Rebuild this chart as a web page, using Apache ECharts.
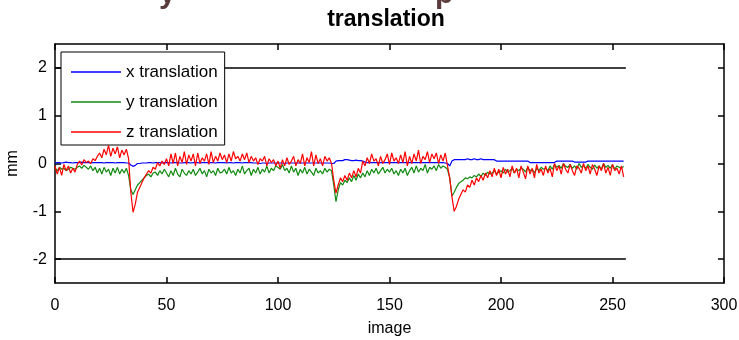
<!DOCTYPE html>
<html>
<head>
<meta charset="utf-8">
<script src="https://cdn.jsdelivr.net/npm/echarts@6/dist/echarts.min.js"></script>
<style>html,body{margin:0;padding:0;background:#fff;}#c{width:739px;height:340px;}</style>
</head>
<body>
<div id="c"></div>
<script>
var seriesNames = ['x translation', 'y translation', 'z translation'];
var xTicks = [0, 50, 100, 150, 200, 250, 300];
var yTicks = [-2, -1, 0, 1, 2];
var limitX = [0, 256];
var limitY = [2, -2];

var xTrans = [
0.01,0.02,0.02,0.01,0.02,0.03,0.02,0.02,0.01,0.02,
0.02,0.02,0.03,0.02,0.02,0.02,0.01,0.02,0.02,0.02,
0.02,0.02,0.01,0.02,0.02,0.02,0.02,0.01,0.02,0.02,
0.02,0.02,0.01,0.01,-0.03,-0.06,-0.04,0.0,0.0,0.01,
0.01,0.01,0.02,0.02,0.01,0.02,0.02,0.02,0.01,0.02,
0.02,0.02,0.01,0.02,0.02,0.02,0.01,0.01,0.02,0.02,
0.02,0.01,0.02,0.02,0.02,0.01,0.02,0.02,0.02,0.01,
0.02,0.02,0.01,0.02,0.02,0.02,0.02,0.01,0.02,0.02,
0.01,0.02,0.02,0.02,0.01,0.02,0.02,0.02,0.02,0.01,
0.01,0.01,0.0,0.01,0.01,0.0,0.01,0.01,0.01,0.01,
0.01,0.01,0.01,0.0,0.01,0.01,0.01,0.01,0.01,0.01,
0.01,0.01,0.01,0.01,0.01,0.01,0.01,0.01,0.01,0.01,
0.01,0.01,0.01,0.01,0.0,0.0,0.05,0.06,0.06,0.06,
0.08,0.08,0.07,0.06,0.06,0.07,0.06,0.06,0.05,0.03,
0.02,0.02,0.02,0.02,0.02,0.02,0.02,0.02,0.02,0.02,
0.02,0.02,0.02,0.02,0.02,0.02,0.02,0.02,0.02,0.02,
0.02,0.02,0.02,0.02,0.02,0.02,0.02,0.02,0.02,0.02,
0.02,0.02,0.02,0.02,0.02,0.01,0.0,-0.05,0.05,0.08,
0.08,0.08,0.08,0.08,0.08,0.1,0.08,0.08,0.1,0.08,
0.08,0.1,0.08,0.08,0.08,0.08,0.08,0.08,0.05,0.05,
0.05,0.05,0.05,0.05,0.05,0.05,0.05,0.05,0.05,0.05,
0.05,0.05,0.05,0.02,0.02,0.02,0.02,0.02,0.02,0.02,
0.02,0.02,0.02,0.02,0.02,0.05,0.05,0.05,0.05,0.05,
0.05,0.05,0.05,0.03,0.03,0.03,0.03,0.03,0.03,0.05,
0.05,0.05,0.05,0.05,0.05,0.05,0.05,0.05,0.05,0.05,
0.05,0.05,0.05,0.05,0.05,0.05];

var yTrans = [
-0.1,-0.15,-0.08,-0.12,-0.1,-0.15,-0.12,-0.08,-0.1,-0.12,
-0.08,-0.05,-0.1,-0.04,-0.08,-0.12,-0.05,-0.15,-0.08,-0.2,
-0.1,-0.22,-0.08,-0.18,-0.12,-0.25,-0.1,-0.2,-0.08,-0.22,
-0.12,-0.2,-0.1,-0.25,-0.55,-0.65,-0.55,-0.45,-0.4,-0.35,
-0.3,-0.25,-0.22,-0.28,-0.2,-0.18,-0.25,-0.15,-0.22,-0.12,
-0.2,-0.28,-0.15,-0.25,-0.1,-0.22,-0.28,-0.12,-0.2,-0.25,
-0.15,-0.22,-0.12,-0.25,-0.18,-0.1,-0.22,-0.15,-0.28,-0.12,
-0.2,-0.15,-0.25,-0.1,-0.2,-0.18,-0.12,-0.22,-0.08,-0.2,
-0.15,-0.25,-0.12,-0.2,-0.05,-0.22,-0.15,-0.1,-0.25,-0.12,
-0.2,-0.08,-0.22,-0.12,-0.18,-0.05,-0.2,-0.1,-0.15,-0.05,
-0.08,-0.12,-0.02,-0.15,-0.1,-0.2,-0.05,-0.18,-0.1,-0.25,
-0.12,-0.2,-0.08,-0.22,-0.12,-0.18,-0.25,-0.1,-0.2,-0.15,
-0.22,-0.1,-0.18,-0.12,-0.15,-0.45,-0.8,-0.55,-0.4,-0.45,
-0.35,-0.4,-0.3,-0.38,-0.25,-0.35,-0.22,-0.3,-0.2,-0.28,
-0.15,-0.25,-0.12,-0.2,-0.1,-0.22,-0.15,-0.08,-0.2,-0.12,
-0.18,-0.1,-0.22,-0.15,-0.25,-0.12,-0.2,-0.1,-0.25,-0.15,
-0.08,-0.2,-0.05,-0.18,-0.1,-0.15,-0.02,-0.2,-0.08,-0.12,
-0.05,-0.15,-0.02,-0.1,-0.05,-0.08,-0.12,-0.3,-0.68,-0.6,
-0.5,-0.42,-0.38,-0.35,-0.3,-0.32,-0.28,-0.3,-0.25,-0.28,
-0.22,-0.27,-0.2,-0.25,-0.18,-0.22,-0.2,-0.15,-0.22,-0.18,
-0.15,-0.2,-0.12,-0.18,-0.15,-0.1,-0.2,-0.12,-0.15,-0.1,
-0.12,-0.18,-0.08,-0.15,-0.12,-0.2,-0.1,-0.15,-0.08,-0.12,
-0.1,-0.15,-0.05,-0.12,-0.02,-0.08,-0.04,-0.1,0.0,-0.06,
-0.08,-0.02,-0.1,-0.05,-0.12,0.0,-0.08,-0.04,-0.1,-0.02,
-0.08,-0.12,-0.03,-0.1,-0.05,-0.12,0.0,-0.08,-0.04,-0.1,
-0.02,-0.12,-0.05,-0.08,-0.1,-0.06];

var zTrans = [
-0.05,-0.22,-0.08,-0.25,-0.02,-0.15,-0.05,-0.2,-0.1,-0.18,
-0.02,0.05,-0.03,0.08,0.02,0.05,0.0,0.1,0.06,0.15,
0.22,0.12,0.3,0.18,0.38,0.15,0.32,0.2,0.35,0.12,
0.28,0.18,0.3,0.1,-0.6,-1.02,-0.85,-0.6,-0.5,-0.4,
-0.3,-0.22,-0.15,-0.2,-0.08,-0.12,0.02,-0.05,0.05,-0.02,
0.1,-0.05,0.2,0.0,0.22,-0.05,0.15,0.02,0.25,-0.02,
0.18,0.05,0.2,-0.05,0.22,0.0,0.12,0.05,0.2,-0.02,
0.25,0.02,0.15,0.05,0.22,0.08,0.18,0.02,0.2,0.05,
0.25,0.1,0.15,0.05,0.2,0.08,0.22,0.02,0.15,0.05,
0.12,-0.02,0.1,0.05,0.15,-0.05,0.1,0.02,0.08,-0.05,
0.05,-0.1,0.08,-0.05,0.12,-0.02,0.05,0.15,-0.05,0.08,
0.0,0.2,-0.05,0.12,0.02,0.25,-0.05,0.18,0.0,0.1,
-0.05,0.15,0.05,0.12,0.0,-0.35,-0.62,-0.45,-0.3,-0.38,
-0.25,-0.35,-0.2,-0.3,-0.15,-0.28,-0.1,-0.2,0.05,-0.05,
0.12,0.0,0.2,0.05,0.1,-0.05,0.15,0.0,0.08,0.2,
-0.02,0.22,0.05,0.12,0.0,0.18,0.02,0.25,-0.05,0.15,
0.0,0.2,0.05,0.28,0.0,0.15,0.08,0.25,0.02,0.2,
0.1,0.22,0.0,0.18,0.05,0.22,-0.05,-0.3,-0.7,-1.0,
-0.9,-0.75,-0.65,-0.55,-0.6,-0.45,-0.5,-0.35,-0.45,-0.3,
-0.38,-0.25,-0.35,-0.2,-0.3,-0.15,-0.28,-0.1,-0.25,-0.12,
-0.3,-0.08,-0.22,-0.12,-0.28,-0.05,-0.2,-0.1,-0.3,-0.05,
-0.18,-0.32,-0.05,-0.22,-0.1,-0.3,-0.02,-0.2,-0.12,-0.25,
-0.05,-0.2,-0.1,-0.28,0.0,-0.15,-0.05,-0.22,0.0,-0.12,
-0.2,-0.02,-0.15,-0.25,-0.05,-0.1,-0.2,0.0,-0.15,-0.05,
-0.22,-0.02,-0.12,-0.25,-0.05,-0.15,0.0,-0.2,-0.08,-0.25,
-0.02,-0.15,-0.1,-0.22,-0.05,-0.28];

function pairs(arr) { return arr.map(function (v, i) { return [i, v]; }); }

var FONT = '"Liberation Sans", Arial, sans-serif';
var chart = echarts.init(document.getElementById('c'), null, { renderer: 'canvas' });

function limitSeries(v) {
  return {
    type: 'line', data: [[limitX[0], v], [limitX[1], v]], symbol: 'none',
    lineStyle: { color: '#000', width: 1.5 }, silent: true, legendHoverLink: false, z: 1
  };
}

var option = {
  animation: false,
  backgroundColor: '#fff',
  textStyle: { fontFamily: FONT },
  grid: { left: 55, right: 15, top: 44, bottom: 57, outerBoundsMode: 'none', containLabel: false },
  legend: {
    orient: 'vertical', left: 61, top: 52,
    data: seriesNames.map(function (n) { return { name: n, icon: 'rect' }; }),
    itemWidth: 50, itemHeight: 1.5, itemGap: 10,
    padding: [10, 7, 3, 10],
    borderColor: '#000', borderWidth: 1, backgroundColor: '#fff',
    textStyle: { fontFamily: FONT, fontSize: 17, color: '#000', lineHeight: 20 },
    selectedMode: false
  },
  graphic: [
    { type: 'text', x: 386, y: 20, style: { text: 'translation', align: 'center', verticalAlign: 'middle', font: 'bold 23px "Liberation Sans", Arial, sans-serif', fill: '#000' } },
    { type: 'text', x: 159, y: -20, style: { text: 'y', font: 'bold 30px "Liberation Sans", Arial, sans-serif', fill: '#5b3b3b' } },
    { type: 'text', x: 435, y: -20, style: { text: 'p', font: 'bold 30px "Liberation Sans", Arial, sans-serif', fill: '#5b3b3b' } }
  ],
  xAxis: [{
    type: 'value', min: 0, max: 300, interval: 50, position: 'bottom',
    name: 'image', nameLocation: 'middle', nameGap: 38,
    nameTextStyle: { fontFamily: FONT, fontSize: 16, color: '#000' },
    axisLine: { show: true, onZero: false, lineStyle: { color: '#000', width: 1.5 } },
    axisTick: { show: true, inside: true, length: 6, lineStyle: { color: '#000', width: 1.5 } },
    axisLabel: { color: '#000', fontFamily: FONT, fontSize: 16, margin: 15 },
    splitLine: { show: false }
  }, {
    type: 'value', min: 0, max: 300, interval: 50, position: 'top',
    axisLine: { show: true, onZero: false, lineStyle: { color: '#000', width: 1.5 } },
    axisTick: { show: true, inside: true, length: 6, lineStyle: { color: '#000', width: 1.5 } },
    axisLabel: { show: false }, splitLine: { show: false }
  }],
  yAxis: [{
    type: 'value', min: -2.5, max: 2.5, position: 'left',
    name: 'mm', nameLocation: 'middle', nameGap: 34, nameRotate: 90,
    nameTextStyle: { fontFamily: FONT, fontSize: 16, color: '#000' },
    axisLine: { show: true, onZero: false, lineStyle: { color: '#000', width: 1.5 } },
    axisTick: { show: true, inside: true, length: 6, customValues: yTicks, lineStyle: { color: '#000', width: 1.5 } },
    axisLabel: { color: '#000', fontFamily: FONT, fontSize: 16, margin: 8, customValues: yTicks },
    splitLine: { show: false }
  }, {
    type: 'value', min: -2.5, max: 2.5, position: 'right',
    axisLine: { show: true, onZero: false, lineStyle: { color: '#000', width: 1.5 } },
    axisTick: { show: true, inside: true, length: 6, customValues: yTicks, lineStyle: { color: '#000', width: 1.5 } },
    axisLabel: { show: false }, splitLine: { show: false }
  }],
  series: [
    limitSeries(limitY[0]),
    limitSeries(limitY[1]),
    { name: seriesNames[0], type: 'line', data: pairs(xTrans), symbol: 'none', color: '#0000ff', lineStyle: { color: '#0000ff', width: 1.2 }, z: 3 },
    { name: seriesNames[1], type: 'line', data: pairs(yTrans), symbol: 'none', color: '#118a11', lineStyle: { color: '#118a11', width: 1.2 }, z: 4 },
    { name: seriesNames[2], type: 'line', data: pairs(zTrans), symbol: 'none', color: '#ff0000', lineStyle: { color: '#ff0000', width: 1.2 }, z: 5 }
  ]
};
chart.setOption(option);
</script>
</body>
</html>
